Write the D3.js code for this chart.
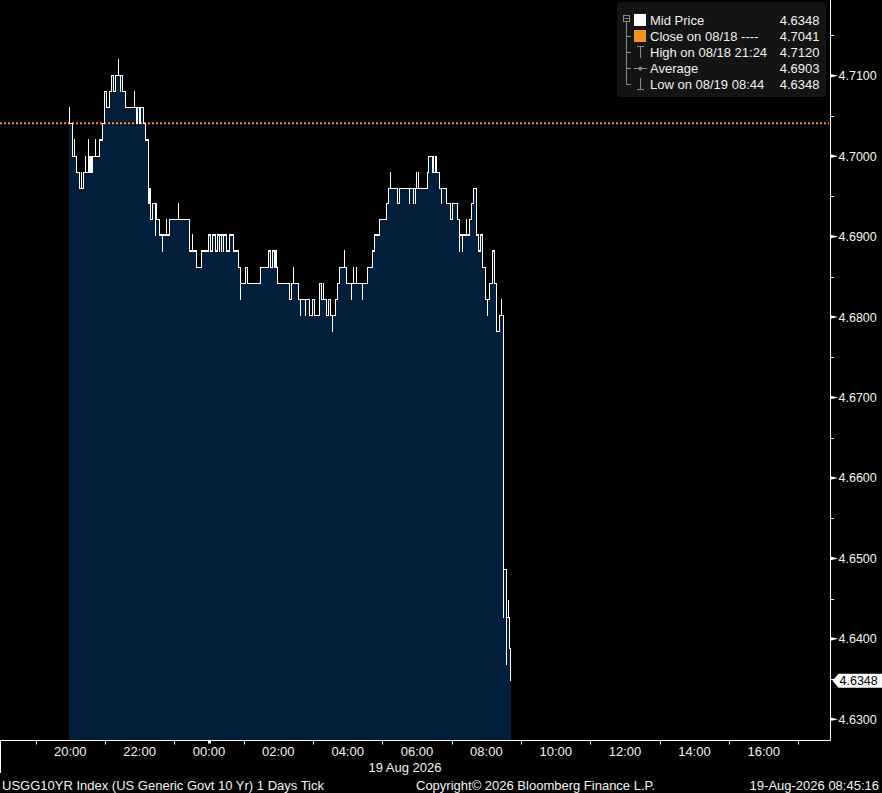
<!DOCTYPE html>
<html>
<head>
<meta charset="utf-8">
<script src="https://cdn.jsdelivr.net/npm/d3@7"></script>
<style>
html,body{margin:0;padding:0;background:#000;}
svg{display:block;}
text{font-family:"Liberation Sans",Arial,sans-serif;}
</style>
</head>
<body>
<svg id="chart" width="882" height="793"></svg>
<script>
// ---------- DATA ----------
// minutes after 18 Aug 2026 20:00 at which the mid yield changes level
const stepMin = [-2.2, 3.5, 10.4, 15.6, 22.5, 34.1, 36.3, 38.1, 50.2, 55.4, 58.8, 62.3, 67.5, 70.9, 74.4, 77.9, 90.0, 95.2,
  114.2, 115.9, 119.4, 121.1, 126.3, 129.8, 135.0, 138.4, 141.9, 148.8, 154.0, 171.3, 205.9, 218.0, 226.7, 238.8, 242.3,
  245.7, 250.9, 254.4, 270.0, 275.1, 282.1, 290.7, 294.2, 302.8, 306.3, 328.8, 342.6, 346.1, 349.6, 353.7, 358.2, 379.0,
  382.4, 394.5, 413.6, 418.8, 422.2, 430.9, 434.3, 443.6, 447.1, 450.6, 458.6, 462.0, 465.5, 477.6, 513.9, 522.6, 526.0,
  534.7, 546.8, 550.3, 565.8, 569.3, 617.8, 619.5, 626.4, 638.5, 650.6, 657.5, 661.0, 669.7, 673.1, 690.4, 693.9, 697.4,
  702.5, 706.0, 709.5, 712.9, 718.1, 725.0, 730.2, 733.7, 737.1, 742.3, 749.3, 754.4, 759.6, 761.4, 762.6];
const stepYld = [4.7041, 4.7000, 4.6980, 4.6960, 4.6980, 4.7000, 4.6980, 4.7000, 4.7020, 4.7041, 4.7080, 4.7060, 4.7080, 4.7100, 4.7080, 4.7100, 4.7080, 4.7060,
  4.7041, 4.7060, 4.7041, 4.7060, 4.7041, 4.7020, 4.6941, 4.6921, 4.6941, 4.6921, 4.6902, 4.6921, 4.6882, 4.6862, 4.6882, 4.6902, 4.6882,
  4.6902, 4.6882, 4.6902, 4.6882, 4.6902, 4.6882, 4.6862, 4.6842, 4.6862, 4.6842, 4.6862, 4.6882, 4.6862, 4.6882, 4.6862, 4.6842, 4.6822,
  4.6842, 4.6822, 4.6802, 4.6822, 4.6802, 4.6842, 4.6822, 4.6802, 4.6822, 4.6802, 4.6822, 4.6842, 4.6862, 4.6842, 4.6862, 4.6882, 4.6902,
  4.6921, 4.6941, 4.6960, 4.6941, 4.6960, 4.6980, 4.7000, 4.6980, 4.6960, 4.6941, 4.6921, 4.6941, 4.6921, 4.6902, 4.6921, 4.6941, 4.6960,
  4.6902, 4.6882, 4.6902, 4.6862, 4.6822, 4.6842, 4.6882, 4.6842, 4.6782, 4.6802, 4.6486, 4.6427, 4.6388, 4.6348, 4.6348];
// single-tick spikes (minutes after 20:00, yield of the tick)
const spikeMin = [-2.0, 6.9, 19.0, 26.0, 31.1, 43.3, 83.1, 86.5, 110.7, 137.9, 147.1, 159.2, 166.1, 186.9, 211.1, 257.8, 261.3, 264.7,
  294.3, 356.0, 385.9, 398.0, 406.6, 437.8, 453.4, 474.1, 486.2, 489.7, 494.9, 505.3, 553.7, 586.6, 593.5, 597.0, 598.7, 602.2,
  628.1, 631.6, 633.3, 642.0, 673.5, 678.3, 685.2, 721.6, 745.8, 749.5, 754.6, 757.9];
const spikeYld = [4.7060, 4.7020, 4.6980, 4.7000, 4.7020, 4.7020, 4.7120, 4.7080, 4.7080, 4.6960, 4.6902, 4.6882, 4.6921, 4.6941, 4.6902, 4.6882, 4.6882, 4.6882,
  4.6822, 4.6882, 4.6862, 4.6802, 4.6802, 4.6842, 4.6782, 4.6882, 4.6822, 4.6862, 4.6862, 4.6822, 4.6980, 4.6941, 4.6941, 4.6941, 4.6980, 4.6980,
  4.7000, 4.7000, 4.7000, 4.6941, 4.6882, 4.6882, 4.6921, 4.6802, 4.6822, 4.6427, 4.6368, 4.6447];

const closeValue = 4.7041;
const lastValue = 4.6348;
const yTickValues = [4.63, 4.64, 4.65, 4.66, 4.67, 4.68, 4.69, 4.70, 4.71];
const yMinorValues = [4.635, 4.645, 4.655, 4.665, 4.675, 4.685, 4.695, 4.705, 4.715];
const legendLabels = ["Mid Price", "Close on 08/18 ----", "High on 08/18 21:24", "Average", "Low on 08/19 08:44"];
const legendValues = ["4.6348", "4.7041", "4.7120", "4.6903", "4.6348"];
const dateLabel = "19 Aug 2026";
const footerLeft = "USGG10YR Index (US Generic Govt 10 Yr) 1 Days Tick";
const footerMid = "Copyright\u00A9 2026 Bloomberg Finance L.P.";
const footerRight = "19-Aug-2026 08:45:16";

// ---------- BUILD ----------
const base = new Date(2026, 7, 18, 20, 0, 0);
const toDate = m => new Date(base.getTime() + m * 60000);

const steps = stepMin.map((m, i) => ({t: m, v: stepYld[i]}));
function levelAt(m) {
  let v = steps[0].v;
  for (const s of steps) { if (s.t <= m) v = s.v; else break; }
  return v;
}
let pts = steps.slice();
spikeMin.forEach((m, i) => {
  const b = levelAt(m);
  pts.push({t: m, v: spikeYld[i]});
  pts.push({t: m + 0.04, v: b});
});
pts.sort((a, b) => a.t - b.t);

const svg = d3.select("#chart");
svg.append("rect").attr("width", 882).attr("height", 793).attr("fill", "#000");

const plotBottom = 740;
const axisX = 830.5;
const x = d3.scaleTime()
  .domain([new Date(2026, 7, 18, 17, 58, 24), new Date(2026, 7, 19, 17, 56, 18)])
  .range([0, 831]);
const y = d3.scaleLinear().domain([4.62743, 4.71941]).range([plotBottom, 0]);

const area = d3.area().curve(d3.curveStepAfter)
  .x(d => x(toDate(d.t))).y0(plotBottom).y1(d => y(d.v));
const line = d3.line().curve(d3.curveStepAfter)
  .x(d => x(toDate(d.t))).y(d => y(d.v));

svg.append("path").datum(pts).attr("d", area).attr("fill", "#031e3a");

// close line
svg.append("line").attr("x1", 0).attr("x2", 829).attr("y1", y(closeValue)).attr("y2", y(closeValue))
  .attr("stroke", "#f7941d").attr("stroke-width", 2).attr("stroke-dasharray", "2,2");

svg.append("path").datum(pts).attr("d", line).attr("fill", "none")
  .attr("stroke", "#ffffff").attr("stroke-width", 1.2).attr("shape-rendering", "crispEdges");

// axes lines
svg.append("line").attr("x1", axisX).attr("x2", axisX).attr("y1", 0).attr("y2", plotBottom + 0.5)
  .attr("stroke", "#fff").attr("stroke-width", 1);
svg.append("line").attr("x1", 0).attr("x2", axisX).attr("y1", plotBottom + 0.5).attr("y2", plotBottom + 0.5)
  .attr("stroke", "#fff").attr("stroke-width", 1);
svg.append("line").attr("x1", 0.5).attr("x2", 0.5).attr("y1", plotBottom).attr("y2", 773)
  .attr("stroke", "#fff").attr("stroke-width", 1);

// y axis
const yg = svg.append("g");
yTickValues.forEach(v => {
  const yy = y(v);
  yg.append("path").attr("d", `M${axisX},${yy - 1.8}L838,${yy}L${axisX},${yy + 1.8}Z`).attr("fill", "#fff");
  yg.append("text").attr("x", 838.5).attr("y", yy + 4.5).attr("fill", "#f4f4f4")
    .attr("font-size", "12.5px").text(d3.format(".4f")(v));
});
yMinorValues.forEach(v => {
  const yy = Math.round(y(v)) + 0.5;
  yg.append("line").attr("x1", axisX).attr("x2", axisX + 3.5).attr("y1", yy).attr("y2", yy)
    .attr("stroke", "#fff").attr("stroke-width", 1);
});
// last value tag
const ly = y(lastValue);
yg.append("path").attr("d", `M832.5,${ly}L838.5,${ly - 7}L882,${ly - 7}L882,${ly + 7}L838.5,${ly + 7}Z`).attr("fill", "#fff");
yg.append("text").attr("x", 839.5).attr("y", ly + 4.5).attr("fill", "#000").attr("font-size", "12.5px")
  .text(d3.format(".4f")(lastValue));

// x axis
const xg = svg.append("g");
const hours = d3.timeHour.range(x.domain()[0], x.domain()[1]);
hours.forEach(h => {
  const xx = Math.round(x(h)) + 0.5;
  const hr = h.getHours();
  if (hr % 2 === 1) {
    xg.append("line").attr("x1", xx).attr("x2", xx).attr("y1", plotBottom).attr("y2", plotBottom + 4.5)
      .attr("stroke", "#fff");
  } else {
    if (hr === 0) {
      xg.append("rect").attr("x", xx - 1.5).attr("y", plotBottom + 0.5).attr("width", 3).attr("height", 3).attr("fill", "#fff");
    }
    if (hr !== 18) {
      xg.append("text").attr("x", x(h)).attr("y", 755.5).attr("text-anchor", "middle")
        .attr("fill", "#f4f4f4").attr("font-size", "13px").text(d3.timeFormat("%H:%M")(h));
    }
  }
});
xg.append("text").attr("x", 405).attr("y", 772).attr("text-anchor", "middle")
  .attr("fill", "#f4f4f4").attr("font-size", "13px").text(dateLabel);

// footer
svg.append("text").attr("x", 2).attr("y", 789.5).attr("fill", "#f4f4f4").attr("font-size", "13px").text(footerLeft);
svg.append("text").attr("x", 416).attr("y", 789.5).attr("fill", "#f4f4f4").attr("font-size", "13px").text(footerMid);
svg.append("text").attr("x", 879).attr("y", 789.5).attr("text-anchor", "end").attr("fill", "#f4f4f4").attr("font-size", "13px").text(footerRight);

// legend
const lg = svg.append("g");
lg.append("rect").attr("x", 617).attr("y", 2).attr("width", 209).attr("height", 95).attr("rx", 4)
  .attr("fill", "#141414");
const rowY = [20, 36, 52, 68, 84];
const gray = "#8a8a8a";
// tree
lg.append("rect").attr("x", 623.5).attr("y", 15.5).attr("width", 6).attr("height", 6).attr("fill", "none").attr("stroke", gray);
lg.append("line").attr("x1", 624.5).attr("x2", 628.5).attr("y1", 18.5).attr("y2", 18.5).attr("stroke", gray);
lg.append("line").attr("x1", 626.5).attr("x2", 626.5).attr("y1", 22).attr("y2", 84.5).attr("stroke", gray);
rowY.slice(1).forEach(r => {
  lg.append("line").attr("x1", 626.5).attr("x2", 631).attr("y1", r + 0.5).attr("y2", r + 0.5).attr("stroke", gray);
});
// icons
lg.append("rect").attr("x", 634).attr("y", rowY[0] - 6).attr("width", 12).attr("height", 12).attr("fill", "#fff");
lg.append("rect").attr("x", 634).attr("y", rowY[1] - 6).attr("width", 12).attr("height", 12).attr("fill", "#f7941d");
lg.append("line").attr("x1", 640.5).attr("x2", 640.5).attr("y1", rowY[2] - 6).attr("y2", rowY[2] + 6).attr("stroke", gray);
lg.append("line").attr("x1", 637).attr("x2", 644).attr("y1", rowY[2] - 5.5).attr("y2", rowY[2] - 5.5).attr("stroke", gray);
lg.append("line").attr("x1", 634).attr("x2", 647).attr("y1", rowY[3] + 0.5).attr("y2", rowY[3] + 0.5).attr("stroke", gray);
lg.append("circle").attr("cx", 640.5).attr("cy", rowY[3] + 0.5).attr("r", 2).attr("fill", gray);
lg.append("line").attr("x1", 640.5).attr("x2", 640.5).attr("y1", rowY[4] - 6).attr("y2", rowY[4] + 6).attr("stroke", gray);
lg.append("line").attr("x1", 637).attr("x2", 644).attr("y1", rowY[4] + 5.5).attr("y2", rowY[4] + 5.5).attr("stroke", gray);
legendLabels.forEach((l, i) => {
  lg.append("text").attr("x", 650).attr("y", rowY[i] + 4.8).attr("fill", "#f0f0f0").attr("font-size", "13px").text(l);
  lg.append("text").attr("x", 819.5).attr("y", rowY[i] + 4.8).attr("text-anchor", "end").attr("fill", "#f0f0f0")
    .attr("font-size", "13px").text(legendValues[i]);
});
</script>
</body>
</html>
